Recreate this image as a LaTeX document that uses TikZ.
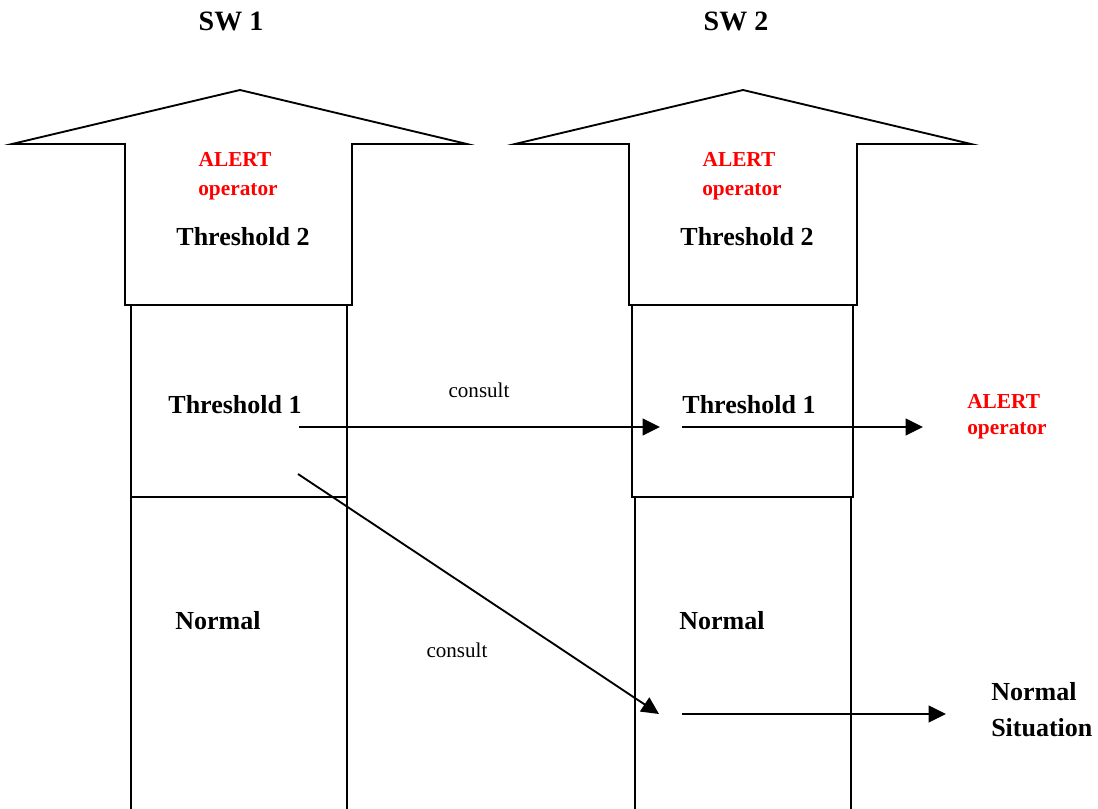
\documentclass[tikz,border=0pt]{standalone}
\usepackage{fontspec}
\setmainfont{Liberation Serif}
\usetikzlibrary{arrows.meta}
\definecolor{alertred}{RGB}{255,0,0}
\tikzset{
  shape line/.style={line width=1.4pt, line join=miter},
  conn/.style={line width=1.4pt, -{Triangle[length=13pt,width=12.5pt]}},
  boldlbl/.style={inner sep=0pt, font=\fontsize{19.5}{22}\selectfont\bfseries},
  titlelbl/.style={inner sep=0pt, font=\fontsize{21}{24}\selectfont\bfseries},
  alertlbl/.style={inner sep=0pt, text=alertred, font=\fontsize{16}{19}\selectfont\bfseries},
  consultlbl/.style={inner sep=0pt, font=\fontsize{15.8}{18}\selectfont},
}
\begin{document}
\begin{tikzpicture}[x=0.75pt,y=-0.75pt]
\useasboundingbox (0,0) rectangle (1098,809);
% SW1 column
\draw[shape line] (125,305) -- (125,144) -- (12,144) -- (240,90) -- (467,144) -- (352,144) -- (352,305) -- cycle;
\draw[shape line] (131,306) -- (131,497) -- (347,497) -- (347,306);
\draw[shape line] (131,498) -- (131,809);
\draw[shape line] (347,498) -- (347,809);
% SW2 column
\draw[shape line] (629,305) -- (629,144) -- (515,144) -- (743,90) -- (971,144) -- (857,144) -- (857,305) -- cycle;
\draw[shape line] (632,306) -- (632,497) -- (853,497) -- (853,306);
\draw[shape line] (635,498) -- (635,809);
\draw[shape line] (851,498) -- (851,809);
% titles
\node[titlelbl, anchor=base] (sw1) at (231,31) {SW 1};
\node[titlelbl, anchor=base] (sw2) at (736,31) {SW 2};
% SW1 labels
\node[alertlbl, anchor=base] (al1) at (235,167) {ALERT};
\node[alertlbl, anchor=base] (op1) at (238,196) {operator};
\node[boldlbl, anchor=base] (th21) at (243,245) {Threshold 2};
\node[boldlbl, anchor=base] (th11) at (235,413) {Threshold 1};
\node[boldlbl, anchor=base] (no1) at (218,629) {Normal};
% SW2 labels
\node[alertlbl, anchor=base] (al2) at (739,167) {ALERT};
\node[alertlbl, anchor=base] (op2) at (742,196) {operator};
\node[boldlbl, anchor=base] (th22) at (747,245) {Threshold 2};
\node[boldlbl, anchor=base] (th12) at (749,413) {Threshold 1};
\node[boldlbl, anchor=base] (no2) at (722,629) {Normal};
% right side labels
\node[alertlbl, anchor=base west] (al3) at (967,408) {ALERT};
\node[alertlbl, anchor=base west] (op3) at (967,434) {operator};
\node[boldlbl, anchor=base west] (ns1) at (991,700) {Normal};
\node[boldlbl, anchor=base west] (ns2) at (991,736) {Situation};
% consult labels
\node[consultlbl, anchor=base] (c1) at (479,397) {consult};
\node[consultlbl, anchor=base] (c2) at (457,657) {consult};
% connector endpoints
\coordinate (a1s) at (299,427);
\coordinate (a1e) at (660,427);
\coordinate (a2s) at (682,427);
\coordinate (a2e) at (923,427);
\coordinate (d1s) at (298,474);
\coordinate (d1e) at (659,714);
\coordinate (n1s) at (682,714);
\coordinate (n1e) at (946,714);
\draw[conn] (a1s) -- (a1e);
\draw[conn] (a2s) -- (a2e);
\draw[conn] (d1s) -- (d1e);
\draw[conn] (n1s) -- (n1e);
\end{tikzpicture}
\end{document}
